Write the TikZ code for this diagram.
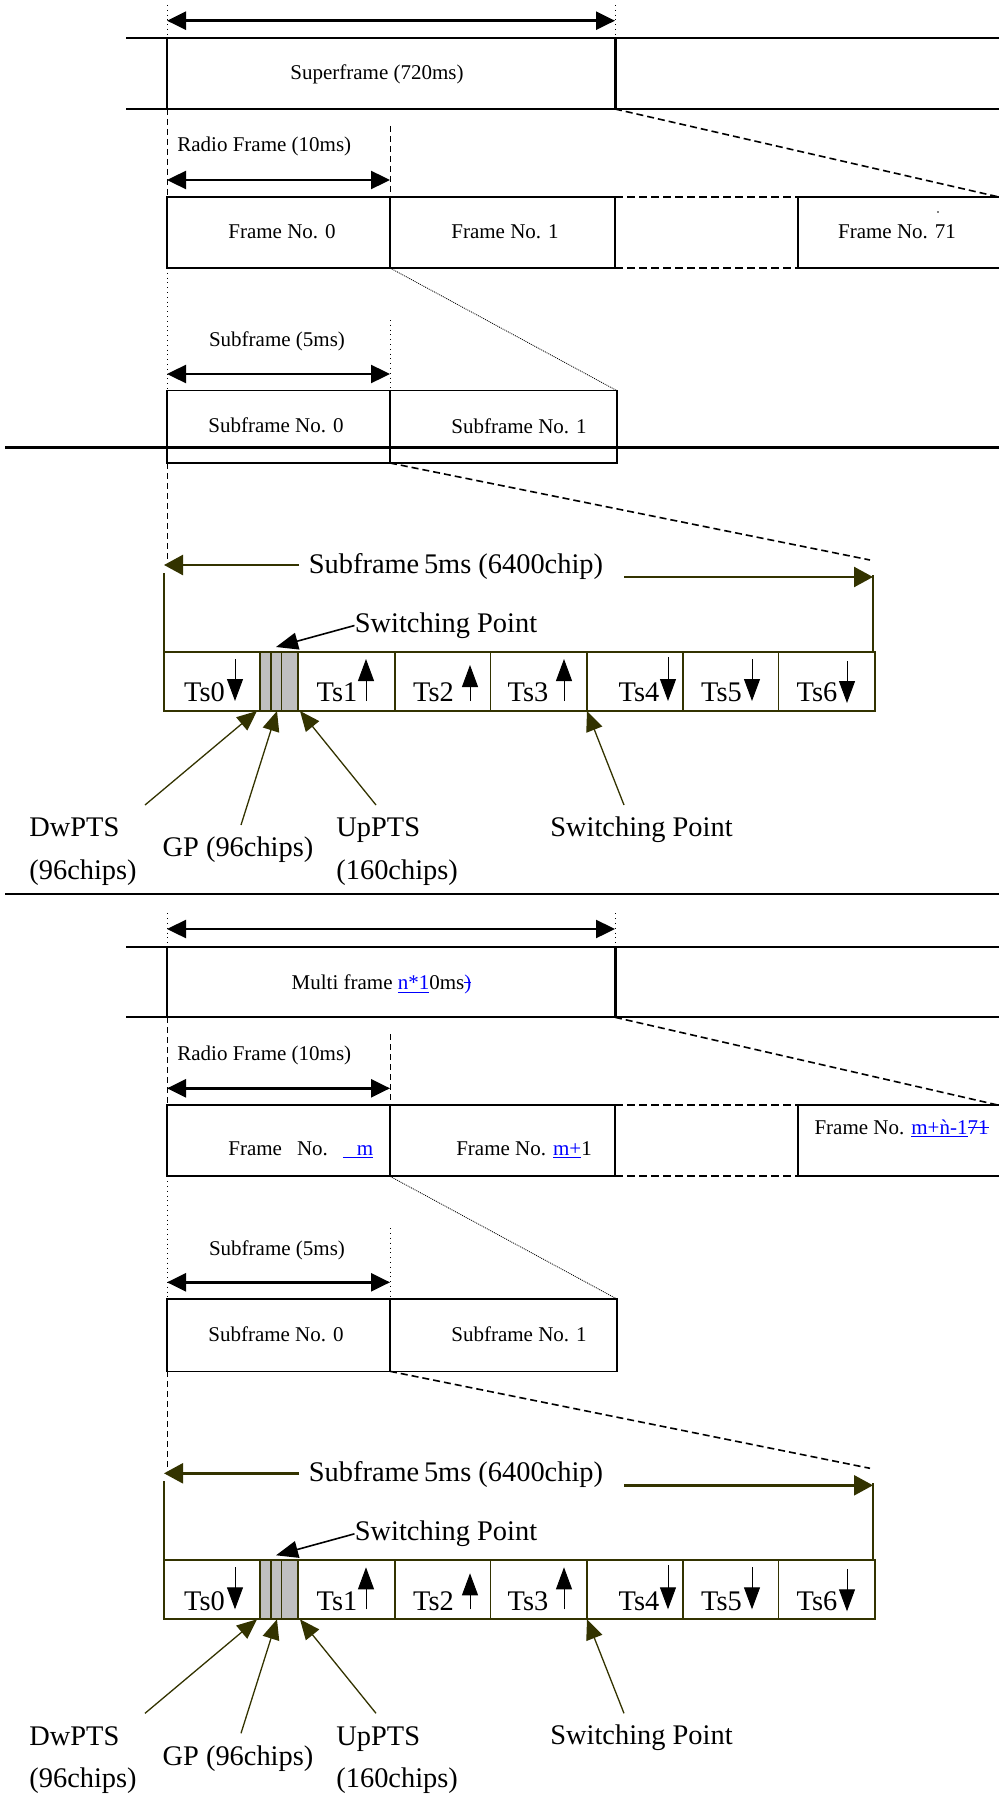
\documentclass[tikz,border=0pt]{standalone}
\usepackage{fontspec}
\setmainfont{Liberation Serif}
\usetikzlibrary{arrows.meta}
\definecolor{olivedk}{RGB}{51,51,0}
\definecolor{slotgray}{RGB}{192,192,192}
\tikzset{%
    lbl/.style={inner sep=0pt,anchor=base,font=\fontsize{10.5}{12}\selectfont},
    biglbl/.style={inner sep=0pt,anchor=base,font=\fontsize{14.2}{16}\selectfont}
}
\newsavebox{\strkbox}
\newcommand{\strk}[1]{\sbox{\strkbox}{#1}\rlap{\rule[0.28em]{\wd\strkbox}{0.5pt}}\usebox{\strkbox}}
% one half of the figure, #1 = suffix of the names
\newcommand{\tddhalf}[1]{%
    % frame row
    \coordinate (sl#1) at (167,20.7);
    \coordinate (sr#1) at (615,20.7);
    \draw[dotv] (167,5) -- (167,38) (615,5) -- (615,38);
    \draw[dim] (sl#1) -- (sr#1);
    \draw[row] (126,38.3) -- (999,38.3) (126,109) -- (999,109) (167,38.3) -- (167,109);
    \draw[row, line width=1.5pt] (615,38.3) -- (615,109);
    \draw[zoomline] (615,109) -- (999,197);
    % radio frames
    \draw[dashv] (167,109) -- (167,197) (390,126) -- (390,197);
    \node[lbl, anchor=base west] (rf#1) at (177,151.7) {Radio Frame (10ms)};
    \coordinate (rl#1) at (167,180);
    \coordinate (rr#1) at (390,180);
    \draw[dim] (rl#1) -- (rr#1);
    \draw[row] (167,197) rectangle (615,268);
    \draw[row, line width=1.4pt] (390,197) -- (390,268);
    \draw[row, dash pattern=on 4pt off 2pt] (615,197) -- (798,197) (615,268) -- (798,268);
    \draw[row] (999,197) -- (798,197) -- (798,268) -- (999,268);
    % subframes
    \draw[fineline] (390,268) -- (617,390.7);
    \draw[dotv] (167,268) -- (167,390.7) (390,320) -- (390,390.7);
    \node[lbl] (sfl#1) at (277,346.7) {Subframe (5ms)};
    \coordinate (fl#1) at (167,374);
    \coordinate (fr#1) at (390,374);
    \draw[dim] (fl#1) -- (fr#1);
    \draw[thinrow] (167,390.7) rectangle (617,463) (390,390.7) -- (390,463);
    \node[lbl] (sub0#1) at (276,432.7) {Subframe No. 0};
    \node[lbl] (sub1#1) at (519,433.5) {Subframe No. 1};
    % time slots
    \draw[zoomline] (390,463) -- (870,560);
    \draw[dashv] (167,463) -- (167,563);
    \node[biglbl] (big#1) at (456,573.5) {Subframe\,5ms (6400chip)};
    \coordinate (bl0#1) at (299,565);
    \coordinate (bl1#1) at (164,565);
    \coordinate (br0#1) at (624,577);
    \coordinate (br1#1) at (873,577);
    \draw[bigarrow] (bl0#1) -- (bl1#1);
    \draw[bigarrow] (br0#1) -- (br1#1);
    \draw[olivedk, line width=0.6pt] (164,573) -- (164,652) (873,575) -- (873,652);
    \fill[slotgray] (260,651.7) rectangle (298,710.7);
    \draw[slot] (164,651.7) rectangle (875,710.7);
    \draw[slot] (260,651.7) -- (260,710.7) (271,651.7) -- (271,710.7)
        (281.5,651.7) -- (281.5,710.7) (298,651.7) -- (298,710.7)
        (395,651.7) -- (395,710.7) (490.5,651.7) -- (490.5,710.7)
        (587,651.7) -- (587,710.7) (683,651.7) -- (683,710.7)
        (778.5,651.7) -- (778.5,710.7);
    \node[biglbl] (ts0#1) at (204.5,701.7) {Ts0};
    \node[biglbl] (ts1#1) at (337,701.7) {Ts1};
    \node[biglbl] (ts2#1) at (433.5,701.7) {Ts2};
    \node[biglbl] (ts3#1) at (528,701.7) {Ts3};
    \node[biglbl] (ts4#1) at (639,701.7) {Ts4};
    \node[biglbl] (ts5#1) at (721.5,701.7) {Ts5};
    \node[biglbl] (ts6#1) at (817,701.7) {Ts6};
    \draw[tsarrow] (235,659) -- (235,701);
    \draw[tsarrow] (366,701) -- (366,659);
    \draw[tsarrow] (470,701) -- (470,665);
    \draw[tsarrow] (564,701) -- (564,659);
    \draw[tsarrow] (668,657) -- (668,701);
    \draw[tsarrow] (752,659) -- (752,701);
    \draw[tsarrow] (847,661) -- (847,703);
    % switching points and special slots
    \node[biglbl] (swt#1) at (446,632.3) {Switching Point};
    \coordinate (swtip#1) at (276,647);
    \draw[swarrow] (swt#1.west) -- (swtip#1);
    \node[biglbl, anchor=base west] (dw#1) at (29,836.7) {DwPTS};
    \node[biglbl, anchor=base west] (dwc#1) at (29,879) {(96chips)};
    \node[biglbl] (gp#1) at (238,856.7) {GP (96chips)};
    \node[biglbl, anchor=base west] (up#1) at (336,836.7) {UpPTS};
    \node[biglbl, anchor=base west] (upc#1) at (336,879) {(160chips)};
    \node[biglbl] (sw#1) at (641.5,836) {Switching Point};
    \coordinate (dwft#1) at (145,805);
    \coordinate (dwtip#1) at (257,711);
    \coordinate (gpft#1) at (241,825);
    \coordinate (gptip#1) at (277,711);
    \coordinate (upft#1) at (376,805);
    \coordinate (uptip#1) at (300,711);
    \coordinate (swft#1) at (624,805);
    \coordinate (swtp#1) at (587,711);
    \draw[olarrow] (dwft#1) -- (dwtip#1);
    \draw[olarrow] (gpft#1) -- (gptip#1);
    \draw[olarrow] (upft#1) -- (uptip#1);
    \draw[olarrow] (swft#1) -- (swtp#1);
}

\begin{document}
\begin{tikzpicture}[
        x=0.5pt, y=-0.5pt,
        row/.style={line width=1pt},
        thinrow/.style={line width=0.7pt},
        dim/.style={line width=1.2pt,{Triangle[length=9.5pt,width=9pt]}-{Triangle[length=9.5pt,width=9pt]}},
        dotv/.style={line width=0.4pt,dotted},
        dashv/.style={line width=0.5pt,dash pattern=on 3pt off 2pt},
        zoomline/.style={line width=0.8pt,dash pattern=on 3.5pt off 2pt},
        fineline/.style={line width=0.4pt,dash pattern=on 0.5pt off 0.5pt},
        slot/.style={draw=olivedk,line width=0.8pt},
        bigarrow/.style={olivedk,line width=1.2pt,-{Triangle[length=9.5pt,width=10pt]}},
        olarrow/.style={olivedk,line width=0.65pt,-{Triangle[length=10pt,width=8.5pt]}},
        tsarrow/.style={line width=0.5pt,-{Triangle[length=11pt,width=8pt]}},
        swarrow/.style={line width=0.8pt,-{Triangle[length=11pt,width=8.5pt]}}
        ]
        \useasboundingbox (0,0) rectangle (999,1803);

        % upper figure
        \tddhalf{a}
        \node[lbl] (supa) at (377,80) {Superframe (720ms)};
        \node[lbl] (fr0a) at (282,239) {Frame No. 0};
        \node[lbl] (fr1a) at (505,239) {Frame No. 1};
        \node[lbl] (frLa) at (897,239) {Frame No. 71};
        \fill (938,212) circle (0.8);
        \draw[line width=1.3pt] (5,447.7) -- (999,447.7);
        \draw[line width=1.4pt] (5,894) -- (999,894);

        % lower figure
        \begin{scope}[shift={(0,908.3)}]
            \tddhalf{b}
            \node[lbl] (supb) at (381.5,81) {Multi frame \textcolor{blue}{\underline{n*1}}0ms\textcolor{blue}{\strk{)}}};
            \node[lbl, anchor=base west] (fr0b) at (228,246.7) {Frame\hspace{7.5pt}No.\hspace{7.5pt}\textcolor{blue}{\underline{\hspace{7pt}m}}};
            \node[lbl] (fr1b) at (524,246.7) {Frame No. \textcolor{blue}{\underline{m+}}1};
            \node[lbl] (frLb) at (901.5,225.7) {Frame No. \textcolor{blue}{\underline{m+\`n-1}\strk{71}}};
        \end{scope}
\end{tikzpicture}
\end{document}
